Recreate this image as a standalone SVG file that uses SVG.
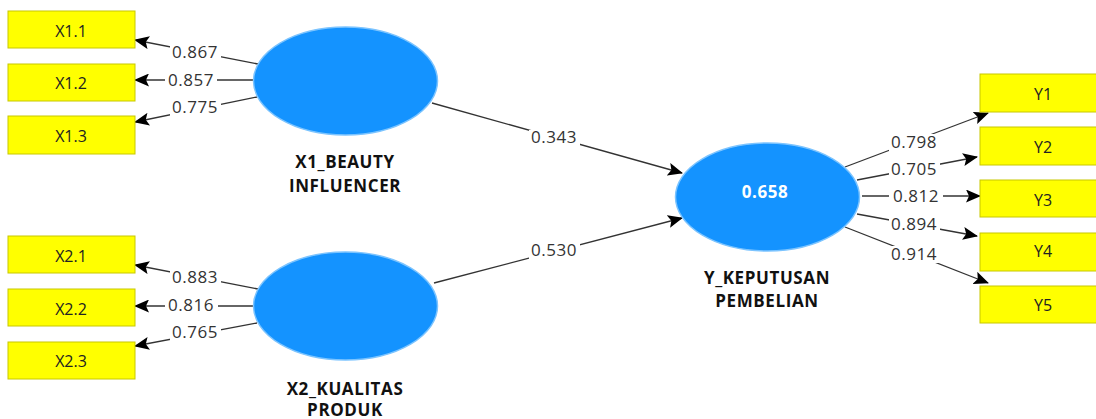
<svg xmlns="http://www.w3.org/2000/svg" width="1096" height="419" viewBox="0 0 1096 419">
<defs>
<marker id="ah" markerUnits="userSpaceOnUse" markerWidth="15" markerHeight="13" viewBox="0 0 15 13" refX="14" refY="6.5" orient="auto">
<path d="M0,0 L15,6.5 L0,13 L3,6.5 Z" fill="#000"/>
</marker>
<style>
.box{fill:#ffff00;stroke:#c8c800;stroke-width:1}
.lv{fill:#1493ff;stroke:#7cc4ff;stroke-width:1.5}
.bt{font-family:"Open Sans","DejaVu Sans",sans-serif;font-size:16px;fill:#222;text-anchor:middle}
.hd{font-family:"Open Sans","DejaVu Sans",sans-serif;font-size:17px;font-weight:bold;fill:#111;text-anchor:middle;letter-spacing:0.6px}
.num{font-family:"Open Sans","DejaVu Sans",sans-serif;font-size:17px;fill:#333;text-anchor:middle;letter-spacing:0.5px}
.ln{stroke:#333;stroke-width:1.3;fill:none;marker-end:url(#ah)}
.bg{fill:#fff}
</style>
</defs>
<rect width="1096" height="419" fill="#fff"/>
<g id="connectors">
<line class="ln" x1="258" y1="64" x2="135" y2="40"/>
<line class="ln" x1="253" y1="80" x2="135" y2="80"/>
<line class="ln" x1="257" y1="97" x2="135" y2="122"/>
<line class="ln" x1="258" y1="289" x2="135" y2="265"/>
<line class="ln" x1="253" y1="306" x2="135" y2="306"/>
<line class="ln" x1="257" y1="323" x2="135" y2="346"/>
<line class="ln" x1="432" y1="103" x2="682" y2="173"/>
<line class="ln" x1="434" y1="283" x2="682" y2="218"/>
<line class="ln" x1="845" y1="167" x2="988" y2="113"/>
<line class="ln" x1="857" y1="180" x2="977" y2="157"/>
<line class="ln" x1="862" y1="196" x2="980" y2="196"/>
<line class="ln" x1="857" y1="214" x2="977" y2="236"/>
<line class="ln" x1="845" y1="227" x2="988" y2="283"/>
<rect class="bg" x="170" y="44" width="51" height="17"/>
<rect class="bg" x="165" y="72" width="52" height="17"/>
<rect class="bg" x="170" y="99" width="51" height="17"/>
<rect class="bg" x="170" y="269" width="51" height="17"/>
<rect class="bg" x="165" y="298" width="53" height="17"/>
<rect class="bg" x="170" y="325" width="51" height="17"/>
<rect class="bg" x="529" y="130" width="51" height="17"/>
<rect class="bg" x="529" y="242" width="51" height="17"/>
<rect class="bg" x="889" y="134" width="51" height="17"/>
<rect class="bg" x="889" y="161" width="51" height="17"/>
<rect class="bg" x="889" y="188" width="54" height="17"/>
<rect class="bg" x="889" y="216" width="51" height="17"/>
<rect class="bg" x="889" y="246" width="51" height="17"/>
<text class="num" x="195" y="58">0.867</text>
<text class="num" x="191" y="86">0.857</text>
<text class="num" x="195" y="113">0.775</text>
<text class="num" x="195" y="283">0.883</text>
<text class="num" x="191" y="311">0.816</text>
<text class="num" x="195" y="338">0.765</text>
<text class="num" x="554" y="143">0.343</text>
<text class="num" x="554" y="256">0.530</text>
<text class="num" x="914" y="148">0.798</text>
<text class="num" x="914" y="175">0.705</text>
<text class="num" x="916" y="202">0.812</text>
<text class="num" x="914" y="230">0.894</text>
<text class="num" x="914" y="260">0.914</text>
</g>
<g id="X1_1"><rect class="box" x="8" y="11" width="127" height="37"/><text class="bt" x="71" y="37">X1.1</text></g>
<g id="X1_2"><rect class="box" x="8" y="64" width="127" height="37"/><text class="bt" x="71" y="89">X1.2</text></g>
<g id="X1_3"><rect class="box" x="8" y="116" width="127" height="38"/><text class="bt" x="71" y="142">X1.3</text></g>
<g id="X2_1"><rect class="box" x="8" y="236" width="127" height="37"/><text class="bt" x="71" y="262">X2.1</text></g>
<g id="X2_2"><rect class="box" x="8" y="289" width="127" height="37"/><text class="bt" x="71" y="315">X2.2</text></g>
<g id="X2_3"><rect class="box" x="8" y="342" width="127" height="37"/><text class="bt" x="71" y="367">X2.3</text></g>
<g id="Y1"><rect class="box" x="980" y="74" width="127" height="38"/><text class="bt" x="1043" y="100">Y1</text></g>
<g id="Y2"><rect class="box" x="980" y="127" width="127" height="38"/><text class="bt" x="1043" y="153">Y2</text></g>
<g id="Y3"><rect class="box" x="980" y="180" width="127" height="37"/><text class="bt" x="1043" y="206">Y3</text></g>
<g id="Y4"><rect class="box" x="980" y="233" width="127" height="38"/><text class="bt" x="1043" y="257">Y4</text></g>
<g id="Y5"><rect class="box" x="980" y="286" width="127" height="37"/><text class="bt" x="1043" y="311">Y5</text></g>
<g id="X1_BEAUTY_INFLUENCER">
<ellipse class="lv" cx="345.5" cy="81" rx="92" ry="54"/>
<text class="hd" x="345" y="168">X1_BEAUTY</text>
<text class="hd" x="345" y="192">INFLUENCER</text>
</g>
<g id="X2_KUALITAS_PRODUK">
<ellipse class="lv" cx="345.5" cy="306" rx="92" ry="54"/>
<text class="hd" x="345" y="395">X2_KUALITAS</text>
<text class="hd" x="345" y="416">PRODUK</text>
</g>
<g id="Y_KEPUTUSAN_PEMBELIAN">
<ellipse class="lv" cx="767.5" cy="197" rx="92" ry="54"/>
<text class="hd" x="765" y="198" style="fill:#fff">0.658</text>
<text class="hd" x="767" y="284">Y_KEPUTUSAN</text>
<text class="hd" x="767" y="307">PEMBELIAN</text>
</g>
</svg>
